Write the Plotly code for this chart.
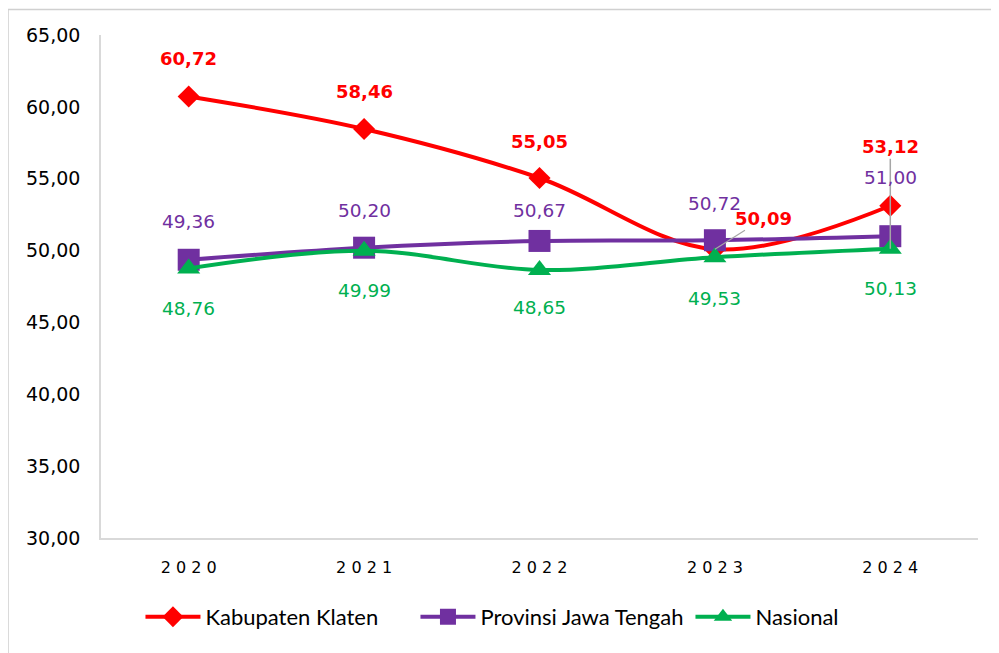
import plotly.graph_objects as go

years = ["2020", "2021", "2022", "2023", "2024"]
year_ticks = [" ".join(y) for y in years]
klaten = [60.72, 58.46, 55.05, 50.09, 53.12]
jateng = [49.36, 50.20, 50.67, 50.72, 51.00]
nasional = [48.76, 49.99, 48.65, 49.53, 50.13]
y_ticks = [30, 35, 40, 45, 50, 55, 60, 65]

RED = "#FF0000"
PURPLE = "#7030A0"
GREEN = "#00B050"

def fmt(v):
    return f"{v:.2f}".replace(".", ",")

idx = list(range(len(years)))

fig = go.Figure()
fig.add_trace(go.Scatter(x=idx, y=klaten, name="Kabupaten Klaten", mode="lines+markers",
                         line=dict(color=RED, width=4, shape="spline", smoothing=1),
                         marker=dict(symbol="diamond", size=17, color=RED)))
fig.add_trace(go.Scatter(x=idx, y=jateng, name="Provinsi Jawa Tengah", mode="lines+markers",
                         line=dict(color=PURPLE, width=4, shape="spline", smoothing=1),
                         marker=dict(symbol="square", size=22, color=PURPLE)))
fig.add_trace(go.Scatter(x=idx, y=nasional, name="Nasional", mode="lines+markers",
                         line=dict(color=GREEN, width=4, shape="spline", smoothing=1),
                         marker=dict(symbol="triangle-up", size=20, color=GREEN)))

lab_font = "DejaVu Sans"
annos = []
red_shift = [38, 37, 37, None, None]
for i, v in zip(idx, klaten):
    if red_shift[i] is not None:
        annos.append(dict(x=i, y=v, text=f"<b>{fmt(v)}</b>", showarrow=False, yshift=red_shift[i],
                          font=dict(color=RED, size=18, family=lab_font)))
# moved labels with leader lines
annos.append(dict(x=3, y=klaten[3], text=f"<b>{fmt(klaten[3])}</b>", showarrow=True,
                  arrowhead=0, arrowwidth=1.2, arrowcolor="#A6A6A6", ax=49, ay=-31, standoff=0,
                  font=dict(color=RED, size=18, family=lab_font)))
annos.append(dict(x=4, y=nasional[4], text=f"<b>{fmt(klaten[4])}</b>", showarrow=True,
                  arrowhead=0, arrowwidth=1.5, arrowcolor="#A6A6A6", ax=0, ay=-102, standoff=0,
                  font=dict(color=RED, size=18, family=lab_font)))
purple_shift = [38, 37, 30, 37, 59]
for i, v, s in zip(idx, jateng, purple_shift):
    annos.append(dict(x=i, y=v, text=fmt(v), showarrow=False, yshift=s,
                      font=dict(color=PURPLE, size=18.5, family=lab_font)))
green_shift = [-40, -40, -38, -41, -40]
for i, v, s in zip(idx, nasional, green_shift):
    annos.append(dict(x=i, y=v, text=fmt(v), showarrow=False, yshift=s,
                      font=dict(color=GREEN, size=18.5, family=lab_font)))

fig.update_layout(
    width=999, height=653,
    margin=dict(l=93, r=29, t=27, b=123),
    paper_bgcolor="white", plot_bgcolor="white",
    annotations=annos,
    showlegend=True,
    legend=dict(orientation="h", x=0.045, xanchor="left", y=-0.157, yanchor="middle",
                font=dict(family="Lato", size=22, color="black"), itemwidth=55,
                entrywidth=205, traceorder="normal"),
    xaxis=dict(range=[-0.5, 4.5], tickmode="array", tickvals=idx, ticktext=year_ticks,
               showgrid=False, showline=True, linecolor="#D9D9D9", linewidth=1.5, ticks="",
               ticklabelstandoff=14,
               tickfont=dict(family=lab_font, size=16, color="black"), zeroline=False),
    yaxis=dict(range=[30, 65], tickmode="array", tickvals=y_ticks,
               ticktext=[fmt(t) for t in y_ticks], showgrid=False, showline=True,
               linecolor="#D9D9D9", linewidth=1.5, ticks="", ticklabelstandoff=15,
               tickfont=dict(family=lab_font, size=19, color="black"), zeroline=False),
    shapes=[
        dict(type="line", xref="paper", yref="paper", x0=-0.12, x1=1.03, y0=1.0507, y1=1.0507,
             line=dict(color="#D0D0D0", width=1.5)),
        dict(type="line", xref="paper", yref="paper", x0=-0.106, x1=-0.106, y0=-0.24, y1=1.0507,
             line=dict(color="#D0D0D0", width=1.5)),
    ],
)

fig.write_html("out.html")
